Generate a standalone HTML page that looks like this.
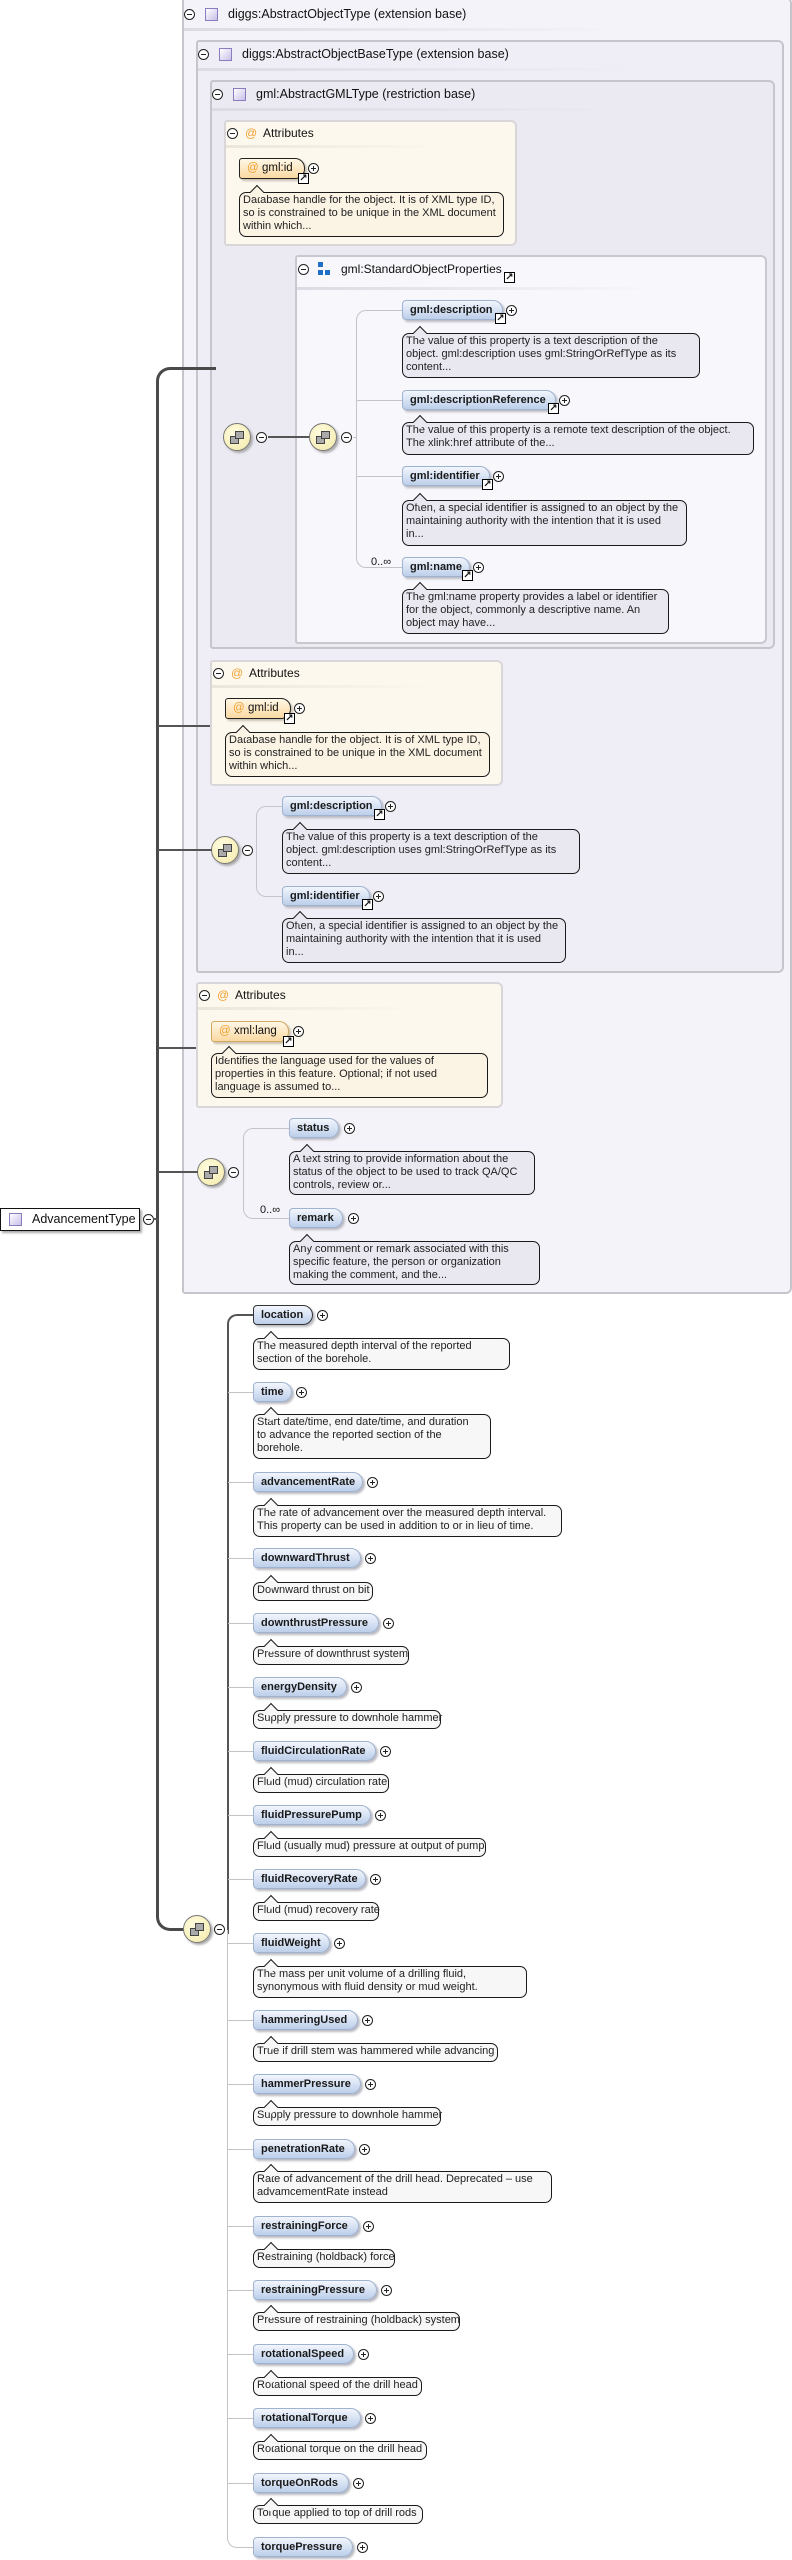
<!DOCTYPE html>
<html><head><meta charset="utf-8"><style>
*{margin:0;padding:0}
body{width:792px;height:2560px;position:relative;background:#fff;font-family:"Liberation Sans",sans-serif;color:#111;overflow:hidden}
div,span{position:absolute;box-sizing:border-box}
.bx{border:2px solid #c6c5cc;border-radius:3px 6px 6px 3px}
.hd{font-size:12.5px;line-height:16px;white-space:nowrap}
.sep{height:3px;background:linear-gradient(90deg,#dcdbe3,rgba(220,219,227,0))}
.mi{width:11px;height:11px;border:1px solid #222;border-radius:50%;background:#fff}
.mi:after{content:"";position:absolute;left:2px;top:4px;width:5px;height:1px;background:#222}
.pl{width:11px;height:11px;border:1px solid #222;border-radius:50%;background:#fff}
.pl:after{content:"";position:absolute;left:2px;top:4px;width:5px;height:1px;background:#222}
.pl:before{content:"";position:absolute;left:4px;top:2px;width:1px;height:5px;background:#222}
.ic{width:13px;height:13px;border:1px solid #8a7cbf;background:linear-gradient(135deg,#fff,#c9bfe8)}
.p{height:20px;border:1px solid #9fb2cf;border-radius:4px 10px 10px 4px;background:linear-gradient(#f2f6fd,#bccfea);font-weight:bold;font-size:11px;line-height:18px;padding-left:7px;white-space:nowrap;box-shadow:2px 2px 2px #b8b8c0;color:#1a1a1a}
.pm{border-color:#333}
.a{height:21px;border:1px solid #d0a860;border-radius:3px 10px 10px 3px;background:linear-gradient(#fff7e6,#fad9a2);font-size:11.5px;line-height:19px;padding-left:22px;white-space:nowrap;box-shadow:2px 2px 2px #c8c0b0}
.am{border-color:#222}
.a b{position:absolute;left:7px;top:0;color:#f0a030;font-weight:normal}
.d{border:1.5px solid #1a1a1a;border-radius:7px;font-size:11px;line-height:13px;padding:1px 3px;white-space:nowrap;color:#222}
.d:before{content:"";position:absolute;top:-6px;left:12px;width:9px;height:9px;background:inherit;border-left:1.5px solid #1a1a1a;border-top:1.5px solid #1a1a1a;transform:rotate(45deg)}
.dl{background:#e9e8f1}
.dw{background:#f7f7f7}
.dy{background:#fbf3e4}
.lw{letter-spacing:0}
.lk{width:11px;height:11px;border:1px solid #000;background:#fff;font-size:10px;line-height:9px;text-align:center;font-family:"DejaVu Sans",sans-serif;font-weight:bold}
.co{width:28px;height:28px;border-radius:50%;border:1px solid #777;background:radial-gradient(circle at 40% 35%,#fffde0,#f3e9a8);box-shadow:2px 2px 2px #aaa}
.co i{position:absolute;width:7px;height:6px;border:1px solid #444;background:#aaa}
.ln{background:#555}
.lt{background:#c4c4c8}
.at{color:#f0a030;font-size:12px}
</style></head><body>

<div class="bx" style="left:182px;top:-3px;width:610px;height:1297px;background:#f4f3f9"></div>
<div class="mi" style="left:184px;top:9px"></div>
<div class="ic" style="left:205px;top:8px"></div>
<div class="hd" style="left:228px;top:6px">diggs:AbstractObjectType (extension base)</div>
<div class="sep" style="left:184px;top:28px;width:440px"></div>

<div class="bx" style="left:196px;top:40px;width:588px;height:933px;background:#efeef6"></div>
<div class="mi" style="left:198px;top:49px"></div>
<div class="ic" style="left:219px;top:48px"></div>
<div class="hd" style="left:242px;top:46px">diggs:AbstractObjectBaseType (extension base)</div>
<div class="sep" style="left:198px;top:68px;width:440px"></div>

<div class="bx" style="left:210px;top:80px;width:565px;height:569px;background:#ebeaf3"></div>
<div class="mi" style="left:212px;top:89px"></div>
<div class="ic" style="left:233px;top:88px"></div>
<div class="hd" style="left:256px;top:86px">gml:AbstractGMLType (restriction base)</div>
<div class="sep" style="left:212px;top:108px;width:420px"></div>

<div class="bx" style="left:224px;top:120px;width:293px;height:126px;background:#fdf8ee;border-color:#d8d6d8"></div>
<div class="mi" style="left:227px;top:128px"></div>
<div class="hd at" style="left:245px;top:125px">@</div>
<div class="hd" style="left:263px;top:125px;font-size:12px">Attributes</div>
<div class="sep" style="left:226px;top:145px;width:220px;background:linear-gradient(90deg,#ece6da,rgba(236,230,218,0))"></div>
<div class="a am" style="left:239px;top:158px;width:66px"><b>@</b>gml:id</div>
<div class="lk" style="left:298px;top:173px">↗</div>
<div class="pl" style="left:308px;top:163px"></div>
<div class="d dy" style="left:239px;top:192px;width:265px;height:45px">Database handle for the object. It is of XML type ID,<br>so is constrained to be unique in the XML document<br>within which...</div>

<div class="bx" style="left:295px;top:255px;width:472px;height:389px;background:#f7f7fc;border-color:#c8c8d0"></div>
<div class="mi" style="left:298px;top:264px"></div>
<div style="left:318px;top:262px;width:5px;height:5px;background:#1f6fc4"></div>
<div style="left:318px;top:270px;width:5px;height:5px;background:#1f6fc4"></div>
<div style="left:325px;top:270px;width:5px;height:5px;background:#1f6fc4"></div>
<div class="hd" style="left:341px;top:261px;font-size:12px">gml:StandardObjectProperties</div>
<div class="lk" style="left:504px;top:272px">↗</div>
<div class="sep" style="left:297px;top:287px;width:360px"></div>

<div class="co" style="left:223px;top:423px"><i style="left:6px;top:12px"></i><i style="left:11px;top:7px"></i></div>
<div class="mi" style="left:256px;top:432px"></div>
<div class="ln" style="left:268px;top:436px;width:42px;height:2px"></div>
<div class="co" style="left:309px;top:423px"><i style="left:6px;top:12px"></i><i style="left:11px;top:7px"></i></div>
<div class="mi" style="left:341px;top:432px"></div>
<div style="left:356px;top:310px;width:46px;height:258px;border:1px solid #c4c4c8;border-right:none;border-radius:10px 0 0 10px"></div>
<div class="lt" style="left:353px;top:437px;width:4px;height:1px"></div>
<div class="lt" style="left:357px;top:400px;width:45px;height:1px"></div>
<div class="lt" style="left:357px;top:476px;width:45px;height:1px"></div>
<div class="hd" style="left:371px;top:554px;font-size:11px">0..∞</div>

<div class="p" style="left:402px;top:300px;width:101px">gml:description</div>
<div class="lk" style="left:495px;top:313px">↗</div>
<div class="pl" style="left:506px;top:305px"></div>
<div class="d dl" style="left:402px;top:333px;width:298px;height:45px">The value of this property is a text description of the<br>object. gml:description uses gml:StringOrRefType as its<br>content...</div>

<div class="p" style="left:402px;top:390px;width:154px">gml:descriptionReference</div>
<div class="lk" style="left:548px;top:403px">↗</div>
<div class="pl" style="left:559px;top:395px"></div>
<div class="d dl" style="left:402px;top:422px;width:352px;height:33px">The value of this property is a remote text description of the object.<br>The xlink:href attribute of the...</div>

<div class="p" style="left:402px;top:466px;width:88px">gml:identifier</div>
<div class="lk" style="left:482px;top:479px">↗</div>
<div class="pl" style="left:493px;top:471px"></div>
<div class="d dl" style="left:402px;top:500px;width:285px;height:46px">Often, a special identifier is assigned to an object by the<br>maintaining authority with the intention that it is used<br>in...</div>

<div class="p" style="left:402px;top:557px;width:68px">gml:name</div>
<div class="lk" style="left:462px;top:570px">↗</div>
<div class="pl" style="left:473px;top:562px"></div>
<div class="d dl" style="left:402px;top:589px;width:267px;height:45px">The gml:name property provides a label or identifier<br>for the object, commonly a descriptive name. An<br>object may have...</div>

<div class="bx" style="left:210px;top:660px;width:293px;height:126px;background:#fdf8ee;border-color:#d8d6d8"></div>
<div class="mi" style="left:213px;top:668px"></div>
<div class="hd at" style="left:231px;top:665px">@</div>
<div class="hd" style="left:249px;top:665px;font-size:12px">Attributes</div>
<div class="sep" style="left:212px;top:685px;width:220px;background:linear-gradient(90deg,#ece6da,rgba(236,230,218,0))"></div>
<div class="a am" style="left:225px;top:698px;width:66px"><b>@</b>gml:id</div>
<div class="lk" style="left:284px;top:713px">↗</div>
<div class="pl" style="left:294px;top:703px"></div>
<div class="d dy" style="left:225px;top:732px;width:265px;height:45px">Database handle for the object. It is of XML type ID,<br>so is constrained to be unique in the XML document<br>within which...</div>

<div class="co" style="left:211px;top:836px"><i style="left:6px;top:12px"></i><i style="left:11px;top:7px"></i></div>
<div class="mi" style="left:242px;top:845px"></div>
<div style="left:256px;top:806px;width:26px;height:91px;border:1px solid #c4c4c8;border-right:none;border-radius:10px 0 0 10px"></div>
<div class="p" style="left:282px;top:796px;width:100px">gml:description</div>
<div class="lk" style="left:374px;top:809px">↗</div>
<div class="pl" style="left:385px;top:801px"></div>
<div class="d dl" style="left:282px;top:829px;width:298px;height:45px">The value of this property is a text description of the<br>object. gml:description uses gml:StringOrRefType as its<br>content...</div>
<div class="p" style="left:282px;top:886px;width:88px">gml:identifier</div>
<div class="lk" style="left:362px;top:899px">↗</div>
<div class="pl" style="left:373px;top:891px"></div>
<div class="d dl" style="left:282px;top:918px;width:284px;height:45px">Often, a special identifier is assigned to an object by the<br>maintaining authority with the intention that it is used<br>in...</div>

<div class="bx" style="left:196px;top:982px;width:307px;height:126px;background:#fdf8ee;border-color:#d8d6d8"></div>
<div class="mi" style="left:199px;top:990px"></div>
<div class="hd at" style="left:217px;top:987px">@</div>
<div class="hd" style="left:235px;top:987px;font-size:12px">Attributes</div>
<div class="sep" style="left:198px;top:1007px;width:220px;background:linear-gradient(90deg,#ece6da,rgba(236,230,218,0))"></div>
<div class="a" style="left:211px;top:1021px;width:78px"><b>@</b>xml:lang</div>
<div class="lk" style="left:283px;top:1036px">↗</div>
<div class="pl" style="left:293px;top:1026px"></div>
<div class="d dy" style="left:211px;top:1053px;width:277px;height:45px">Identifies the language used for the values of<br>properties in this feature. Optional; if not used<br>language is assumed to...</div>

<div class="co" style="left:197px;top:1158px"><i style="left:6px;top:12px"></i><i style="left:11px;top:7px"></i></div>
<div class="mi" style="left:228px;top:1167px"></div>
<div style="left:243px;top:1128px;width:46px;height:91px;border:1px solid #c4c4c8;border-right:none;border-radius:10px 0 0 10px"></div>
<div class="hd" style="left:260px;top:1202px;font-size:11px">0..∞</div>
<div class="p" style="left:289px;top:1118px;width:50px">status</div>
<div class="pl" style="left:344px;top:1123px"></div>
<div class="d dl" style="left:289px;top:1151px;width:246px;height:44px">A text string to provide information about the<br>status of the object to be used to track QA/QC<br>controls, review or...</div>
<div class="p" style="left:289px;top:1208px;width:54px">remark</div>
<div class="pl" style="left:348px;top:1213px"></div>
<div class="d dl" style="left:289px;top:1241px;width:251px;height:44px">Any comment or remark associated with this<br>specific feature, the person or organization<br>making the comment, and the...</div>

<div style="left:156px;top:367px;width:60px;height:1564px;border:3px solid #4a4a4a;border-right:none;border-radius:14px 0 0 14px"></div>
<div class="ln" style="left:170px;top:367px;width:40px;height:3px;background:#4a4a4a"></div>
<div class="ln" style="left:158px;top:725px;width:52px;height:2px"></div>
<div class="ln" style="left:158px;top:849px;width:54px;height:2px"></div>
<div class="ln" style="left:158px;top:1047px;width:38px;height:2px"></div>
<div class="ln" style="left:158px;top:1171px;width:40px;height:2px"></div>
<div style="left:187px;top:1926px;width:30px;height:8px;background:#fff"></div>
<div class="ln" style="left:170px;top:1928px;width:28px;height:3px;background:#4a4a4a"></div>

<div style="left:0;top:1208px;width:140px;height:23px;border:1.5px solid #111;background:#fff;box-shadow:2px 2px 2px #aaa"></div>
<div class="ic" style="left:9px;top:1213px"></div>
<div class="hd" style="left:32px;top:1211px;font-size:12.5px">AdvancementType</div>
<div class="mi" style="left:143px;top:1214px"></div>
<div class="ln" style="left:153px;top:1218px;width:5px;height:2px"></div>

<div class="co" style="left:183px;top:1915px"><i style="left:6px;top:12px"></i><i style="left:11px;top:7px"></i></div>
<div class="mi" style="left:214px;top:1924px"></div>
<div style="left:227px;top:1314px;width:26px;height:620px;border:2px solid #555;border-right:none;border-bottom:none;border-radius:10px 0 0 0"></div>
<div style="left:227px;top:1930px;width:26px;height:618px;border:1px solid #c4c4c8;border-right:none;border-top:none;border-radius:0 0 0 10px"></div>

<div class="lt" style="left:228px;top:1392px;width:25px;height:1px"></div>
<div class="lt" style="left:228px;top:1482px;width:25px;height:1px"></div>
<div class="lt" style="left:228px;top:1558px;width:25px;height:1px"></div>
<div class="lt" style="left:228px;top:1623px;width:25px;height:1px"></div>
<div class="lt" style="left:228px;top:1687px;width:25px;height:1px"></div>
<div class="lt" style="left:228px;top:1751px;width:25px;height:1px"></div>
<div class="lt" style="left:228px;top:1815px;width:25px;height:1px"></div>
<div class="lt" style="left:228px;top:1879px;width:25px;height:1px"></div>
<div class="lt" style="left:228px;top:1943px;width:25px;height:1px"></div>
<div class="lt" style="left:228px;top:2020px;width:25px;height:1px"></div>
<div class="lt" style="left:228px;top:2084px;width:25px;height:1px"></div>
<div class="lt" style="left:228px;top:2149px;width:25px;height:1px"></div>
<div class="lt" style="left:228px;top:2226px;width:25px;height:1px"></div>
<div class="lt" style="left:228px;top:2290px;width:25px;height:1px"></div>
<div class="lt" style="left:228px;top:2354px;width:25px;height:1px"></div>
<div class="lt" style="left:228px;top:2418px;width:25px;height:1px"></div>
<div class="lt" style="left:228px;top:2483px;width:25px;height:1px"></div>

<div class="p pm lw" style="left:253px;top:1305px;width:60px">location</div><div class="pl" style="left:317px;top:1310px"></div>
<div class="d dw lw" style="left:253px;top:1338px;width:257px;height:32px">The measured depth interval of the reported<br>section of the borehole.</div>

<div class="p lw" style="left:253px;top:1382px;width:39px">time</div><div class="pl" style="left:296px;top:1387px"></div>
<div class="d dw lw" style="left:253px;top:1414px;width:238px;height:45px">Start date/time, end date/time, and duration<br>to advance the reported section of the<br>borehole.</div>

<div class="p lw" style="left:253px;top:1472px;width:110px">advancementRate</div><div class="pl" style="left:367px;top:1477px"></div>
<div class="d dw lw" style="left:253px;top:1505px;width:309px;height:32px">The rate of advancement over the measured depth interval.<br>This property can be used in addition to or in lieu of time.</div>

<div class="p lw" style="left:253px;top:1548px;width:108px">downwardThrust</div><div class="pl" style="left:365px;top:1553px"></div>
<div class="d dw lw" style="left:253px;top:1582px;width:120px;height:19px">Downward thrust on bit</div>

<div class="p lw" style="left:253px;top:1613px;width:126px">downthrustPressure</div><div class="pl" style="left:383px;top:1618px"></div>
<div class="d dw lw" style="left:253px;top:1646px;width:156px;height:19px">Pressure of downthrust system</div>

<div class="p lw" style="left:253px;top:1677px;width:94px">energyDensity</div><div class="pl" style="left:351px;top:1682px"></div>
<div class="d dw lw" style="left:253px;top:1710px;width:188px;height:19px">Supply pressure to downhole hammer</div>

<div class="p lw" style="left:253px;top:1741px;width:123px">fluidCirculationRate</div><div class="pl" style="left:380px;top:1746px"></div>
<div class="d dw lw" style="left:253px;top:1774px;width:136px;height:19px">Fluid (mud) circulation rate</div>

<div class="p lw" style="left:253px;top:1805px;width:118px">fluidPressurePump</div><div class="pl" style="left:375px;top:1810px"></div>
<div class="d dw lw" style="left:253px;top:1838px;width:233px;height:19px">Fluid (usually mud) pressure at output of pump</div>

<div class="p lw" style="left:253px;top:1869px;width:113px">fluidRecoveryRate</div><div class="pl" style="left:370px;top:1874px"></div>
<div class="d dw lw" style="left:253px;top:1902px;width:126px;height:19px">Fluid (mud) recovery rate</div>

<div class="p lw" style="left:253px;top:1933px;width:77px">fluidWeight</div><div class="pl" style="left:334px;top:1938px"></div>
<div class="d dw lw" style="left:253px;top:1966px;width:274px;height:32px">The mass per unit volume of a drilling fluid,<br>synonymous with fluid density or mud weight.</div>

<div class="p lw" style="left:253px;top:2010px;width:105px">hammeringUsed</div><div class="pl" style="left:362px;top:2015px"></div>
<div class="d dw lw" style="left:253px;top:2043px;width:245px;height:19px">True if drill stem was hammered while advancing</div>

<div class="p lw" style="left:253px;top:2074px;width:108px">hammerPressure</div><div class="pl" style="left:365px;top:2079px"></div>
<div class="d dw lw" style="left:253px;top:2107px;width:188px;height:19px">Supply pressure to downhole hammer</div>

<div class="p lw" style="left:253px;top:2139px;width:102px">penetrationRate</div><div class="pl" style="left:359px;top:2144px"></div>
<div class="d dw lw" style="left:253px;top:2171px;width:299px;height:32px">Rate of advancement of the drill head. Deprecated – use<br>advamcementRate instead</div>

<div class="p lw" style="left:253px;top:2216px;width:106px">restrainingForce</div><div class="pl" style="left:363px;top:2221px"></div>
<div class="d dw lw" style="left:253px;top:2249px;width:142px;height:19px">Restraining (holdback) force</div>

<div class="p lw" style="left:253px;top:2280px;width:124px">restrainingPressure</div><div class="pl" style="left:381px;top:2285px"></div>
<div class="d dw lw" style="left:253px;top:2312px;width:207px;height:19px">Pressure of restraining (holdback) system</div>

<div class="p lw" style="left:253px;top:2344px;width:101px">rotationalSpeed</div><div class="pl" style="left:358px;top:2349px"></div>
<div class="d dw lw" style="left:253px;top:2377px;width:169px;height:19px">Rotational speed of the drill head</div>

<div class="p lw" style="left:253px;top:2408px;width:108px">rotationalTorque</div><div class="pl" style="left:365px;top:2413px"></div>
<div class="d dw lw" style="left:253px;top:2441px;width:174px;height:19px">Rotational torque on the drill head</div>

<div class="p lw" style="left:253px;top:2473px;width:96px">torqueOnRods</div><div class="pl" style="left:353px;top:2478px"></div>
<div class="d dw lw" style="left:253px;top:2505px;width:170px;height:19px">Torque applied to top of drill rods</div>

<div class="p lw" style="left:253px;top:2537px;width:100px">torquePressure</div><div class="pl" style="left:357px;top:2542px"></div>

</body></html>
